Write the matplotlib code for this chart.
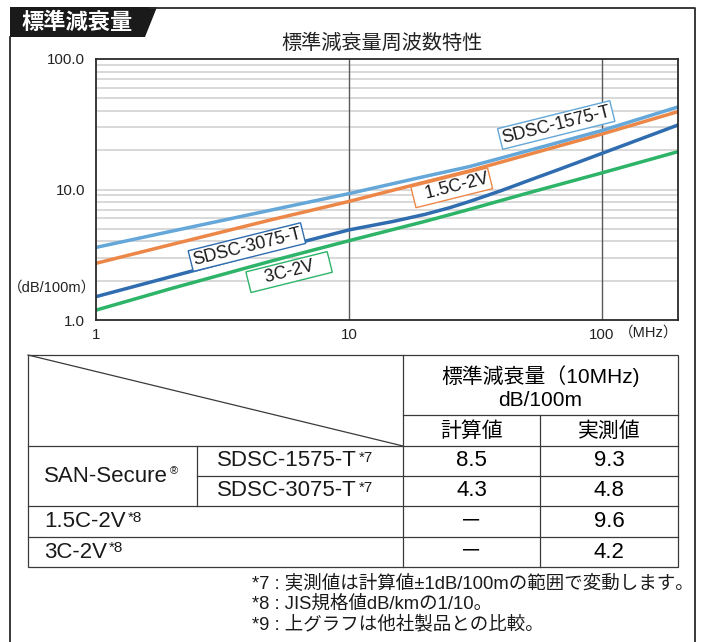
import matplotlib
matplotlib.use("Agg")
import matplotlib.pyplot as plt
from matplotlib.patches import Polygon, Rectangle
from matplotlib.ticker import FixedLocator, FixedFormatter, NullLocator

plt.rcParams['font.family'] = ['Liberation Sans', 'Noto Sans CJK JP']

# chart data
freq = [1, 2, 5, 10, 20, 30, 50, 100, 200]
sdsc_1575 = [3.6, 4.8, 7.0, 9.3, 12.6, 15.0, 19.6, 28.3, 42.9]
c15_2v = [2.72, 3.8, 5.9, 8.1, 11.4, 13.9, 18.3, 26.6, 39.5]
c3_2v = [1.19, 1.75, 2.85, 4.05, 5.7, 7.05, 9.3, 13.4, 19.5]
freq_3075 = [1, 2, 5, 10, 15, 20, 25, 30, 40, 50, 70, 100, 200]
sdsc_3075 = [1.51, 2.16, 3.47, 4.9, 5.7, 6.45, 7.25, 8.1, 9.8, 11.5, 14.6, 18.9, 31.2]

series_names = ['SDSC-1575-T', '1.5C-2V', 'SDSC-3075-T', '3C-2V']
series_colors = ['#64a7d8', '#ec8748', '#2f6db0', '#2db468']
label_text = ['SDSC-1575-T', '  1.5C-2V', 'SDSC-3075-T', '   3C-2V   ']
label_x = [66, 25.5, 3.95, 5.8]
label_y = [31.2, 10.3, 3.62, 2.33]

# table data
table_calc = ['8.5', '4.3', '－', '－']
table_meas = ['9.3', '4.8', '9.6', '4.2']
footnotes = ['*7 : 実測値は計算値±1dB/100mの範囲で変動します。',
             '*8 : JIS規格値dB/kmの1/10。',
             '*9 : 上グラフは他社製品との比較。']

W, H = 704, 642
fig = plt.figure(figsize=(W / 100, H / 100), dpi=100)

# background layer in pixel coordinates
bg = fig.add_axes([0, 0, 1, 1])
bg.set_xlim(0, W)
bg.set_ylim(H, 0)
bg.axis('off')

frame_c = '#2a2a2a'
bg.plot([10, 10], [37, H], color=frame_c, lw=1.3)
bg.plot([150, 695, 695], [8, 8, H], color=frame_c, lw=1.3)
bg.add_patch(Polygon([(10, 7), (157, 7), (145, 37), (10, 37)], closed=True,
                     facecolor='#1a1a1a', edgecolor='none'))
bg.text(77, 22, '標準減衰量', color='white', fontsize=16, fontweight='bold',
        ha='center', va='center', family='Noto Sans CJK JP')
bg.text(382, 43, '標準減衰量周波数特性', fontsize=14.5, ha='center', va='center',
        color='#222222')

# table lines
tc = '#3a3a3a'
tlw = 0.9
bg.add_patch(Rectangle((28, 355), 650, 212, fill=False, edgecolor=tc, lw=tlw))
hlines = [(446, 28, 678), (537, 28, 678), (415, 403, 678),
          (476, 197, 678), (506, 28, 678)]
for y, x0, x1 in hlines:
    bg.plot([x0, x1], [y, y], color=tc, lw=tlw)
vlines = [(197, 446, 506), (403, 355, 567), (540, 415, 567)]
for x, y0, y1 in vlines:
    bg.plot([x, x], [y0, y1], color=tc, lw=tlw)
bg.plot([28, 403], [355, 446], color=tc, lw=tlw)

tfs = 16
bg.text(540.5, 376, '標準減衰量（10MHz)', fontsize=15, ha='center', va='center')
bg.text(540.5, 401, 'dB/100m', fontsize=15, ha='center', va='center')
bg.text(471.5, 431, '計算値', fontsize=15, ha='center', va='center')
bg.text(609, 431, '実測値', fontsize=15, ha='center', va='center')


def text_sup(x, y, main, sup, ha='center', size=tfs, sup_size=11):
    t = bg.text(x, y, main, fontsize=size, ha=ha, va='center', color='#1a1a1a')
    bg.annotate(sup, xy=(1.0, 1.0), xycoords=t, xytext=(1.5, 0),
                textcoords='offset points', ha='left', va='top',
                fontsize=sup_size, color='#1a1a1a')
    return t


text_sup(106, 477, 'SAN-Secure', '®', sup_size=8)
row_y = [461, 491, 521.5, 552]
text_sup(287, row_y[0], series_names[0], '*7')
text_sup(287, row_y[1], series_names[2], '*7')
text_sup(44, row_y[2], series_names[1], '*8', ha='left')
text_sup(44, row_y[3], series_names[3], '*8', ha='left')
for i in range(4):
    bg.text(471.5, row_y[i], table_calc[i], fontsize=tfs, ha='center', va='center')
    bg.text(609, row_y[i], table_meas[i], fontsize=tfs, ha='center', va='center')

for i, note in enumerate(footnotes):
    bg.text(252, 583 + i * 20.5, note, fontsize=13.3, ha='left', va='center',
            color='#1a1a1a')

# chart
ax = fig.add_axes([96 / W, 1 - 320 / H, (678 - 96) / W, (320 - 59) / H])
ax.set_xscale('log')
ax.set_yscale('log')
ax.set_xlim(1, 200)
ax.set_ylim(1, 100)

grid_y = [m * 10 ** e for e in (0, 1) for m in range(2, 10)] + [10]
for gy in grid_y:
    ax.axhline(gy, color='#d6d6d6', lw=1.3, zorder=1)
for gx in (10, 100):
    ax.axvline(gx, color='#5a5a5a', lw=1.0, zorder=1)

ax.plot(freq, sdsc_1575, color=series_colors[0], lw=2.5, zorder=3)
ax.plot(freq, c15_2v, color=series_colors[1], lw=2.5, zorder=2.9)
ax.plot(freq_3075, sdsc_3075, color=series_colors[2], lw=2.5, zorder=3)
ax.plot(freq, c3_2v, color=series_colors[3], lw=2.5, zorder=3)

for i in range(4):
    ax.text(label_x[i], label_y[i], label_text[i], fontsize=12.8, rotation=14,
            rotation_mode='anchor', ha='center', va='center', zorder=5,
            color='#1a1a1a',
            bbox=dict(boxstyle='square,pad=0.12', facecolor='white',
                      edgecolor=series_colors[i], lw=1.0))

ax.xaxis.set_major_locator(FixedLocator([1, 10, 100]))
ax.xaxis.set_major_formatter(FixedFormatter(['1', '10', '100']))
ax.xaxis.set_minor_locator(NullLocator())
ax.yaxis.set_major_locator(FixedLocator([1, 10, 100]))
ax.yaxis.set_major_formatter(FixedFormatter(['1.0', '10.0', '100.0']))
ax.yaxis.set_minor_locator(NullLocator())
ax.tick_params(axis='both', length=0, labelsize=10.8, colors='#222222')
ax.tick_params(axis='x', pad=6)
ax.tick_params(axis='y', pad=8)
for sp in ax.spines.values():
    sp.set_color('#2a2a2a')
    sp.set_linewidth(1.3)
    sp.set_zorder(6)

ax.text(0.0, 0.125, '（dB/100m）', transform=ax.transAxes, fontsize=10.5,
        ha='right', va='center', color='#222222')
ax.text(1.0, -0.05, '（MHz）', transform=ax.transAxes, fontsize=10.5,
        ha='right', va='center', color='#222222')

fig.savefig('out.png', dpi=100)
